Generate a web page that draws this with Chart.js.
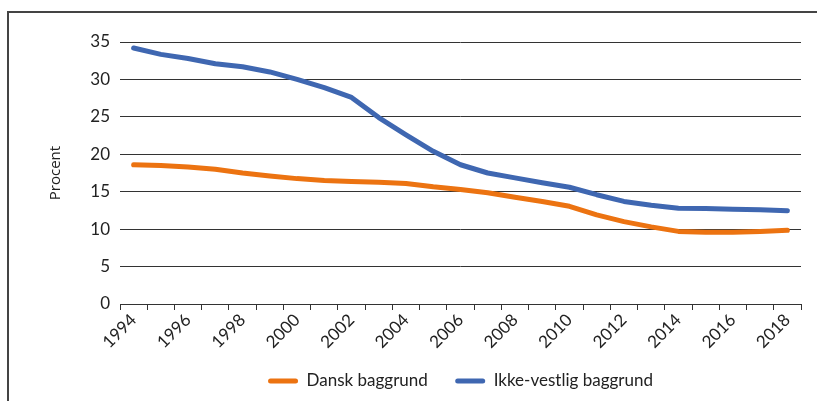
<!DOCTYPE html>
<html>
<head>
<meta charset="utf-8">
<script src="https://cdn.jsdelivr.net/npm/chart.js@4/dist/chart.umd.min.js"></script>
<style>
    html, body { margin: 0; padding: 0; background: #fff; }
    #frame {
        position: absolute; left: 7px; top: 11px; width: 810px; height: 390px;
        border-top: 2px solid #444; border-left: 2px solid #444;
    }
    #wrap { position: absolute; left: 0; top: 0; width: 808px; height: 388px; }
</style>
</head>
<body>
<div id="frame"><div id="wrap"><canvas id="myChart"></canvas></div></div>
<script>
var years = ['1994','1995','1996','1997','1998','1999','2000','2001','2002','2003','2004','2005','2006',
             '2007','2008','2009','2010','2011','2012','2013','2014','2015','2016','2017','2018'];
var danskBaggrund = [18.6, 18.5, 18.3, 18.0, 17.5, 17.1, 16.75, 16.5, 16.35, 16.25, 16.1, 15.65, 15.3,
                     14.85, 14.25, 13.7, 13.05, 11.9, 11.0, 10.3, 9.7, 9.57, 9.6, 9.7, 9.85];
var ikkeVestlig = [34.2, 33.35, 32.8, 32.1, 31.7, 31.0, 30.0, 28.9, 27.6, 24.9, 22.6, 20.4, 18.6,
                   17.5, 16.85, 16.2, 15.6, 14.6, 13.7, 13.2, 12.8, 12.75, 12.65, 12.6, 12.45];
var seriesNames = ['Dansk baggrund', 'Ikke-vestlig baggrund'];
var seriesColors = ['#EC7311', '#3F67B1'];

document.addEventListener("DOMContentLoaded", function () {
    var ctx = document.getElementById('myChart').getContext('2d');
    new Chart(ctx, {
        type: 'line',
        data: {
            labels: years,
            datasets: [{
                label: seriesNames[0],
                data: danskBaggrund,
                borderColor: seriesColors[0],
                backgroundColor: seriesColors[0],
                borderWidth: 5,
                pointRadius: 0,
                borderCapStyle: 'round',
                borderJoinStyle: 'round',
                tension: 0
            }, {
                label: seriesNames[1],
                data: ikkeVestlig,
                borderColor: seriesColors[1],
                backgroundColor: seriesColors[1],
                borderWidth: 5,
                pointRadius: 0,
                borderCapStyle: 'round',
                borderJoinStyle: 'round',
                tension: 0
            }]
        },
        options: {
            responsive: true,
            maintainAspectRatio: false,
            animation: false,
            layout: { padding: { left: 30, right: 16, top: 29, bottom: 1.5 } },
            plugins: {
                tooltip: { enabled: false },
                legend: {
                    position: 'bottom',
                    fullSize: false,
                    labels: {
                        color: '#222',
                        font: { family: 'Lato', size: 17 },
                        boxWidth: 30,
                        boxHeight: 5,
                        padding: 12.5,
                        useBorderRadius: true,
                        borderRadius: 2.5,
                        generateLabels: function (chart) {
                            return chart.data.datasets.map(function (ds, i) {
                                // extra space after the first entry widens the gap between items
                                return {
                                    text: i === 0 ? ds.label + '\u2003\u2009' : ds.label,
                                    fillStyle: ds.borderColor,
                                    strokeStyle: ds.borderColor,
                                    lineWidth: 0,
                                    fontColor: '#222',
                                    borderRadius: 2.5,
                                    datasetIndex: i
                                };
                            });
                        }
                    }
                }
            },
            scales: {
                x: {
                    offset: true,
                    grid: {
                        display: true,
                        offset: true,
                        drawOnChartArea: false,
                        drawTicks: true,
                        tickLength: 6,
                        color: '#333'
                    },
                    border: { display: true, color: '#333' },
                    ticks: {
                        autoSkip: false,
                        minRotation: 45,
                        maxRotation: 45,
                        padding: 0,
                        color: '#222',
                        font: { family: 'Lato', size: 17 },
                        callback: function (value, index) {
                            return index % 2 === 0 ? this.getLabelForValue(value) : '';
                        }
                    },
                    afterFit: function (axis) { axis.height = 56; }
                },
                y: {
                    min: 0,
                    max: 35,
                    ticks: {
                        stepSize: 5,
                        padding: 10,
                        color: '#222',
                        font: { family: 'Lato', size: 17 }
                    },
                    grid: { color: '#333', drawTicks: false, lineWidth: 1 },
                    border: { display: false },
                    title: {
                        display: true,
                        text: 'Procent',
                        color: '#222',
                        font: { family: 'Open Sans', size: 15 },
                        padding: { top: 8, bottom: 0 }
                    },
                    afterFit: function (axis) { axis.width = 81; }
                }
            }
        }
    });
});
</script>
</body>
</html>
